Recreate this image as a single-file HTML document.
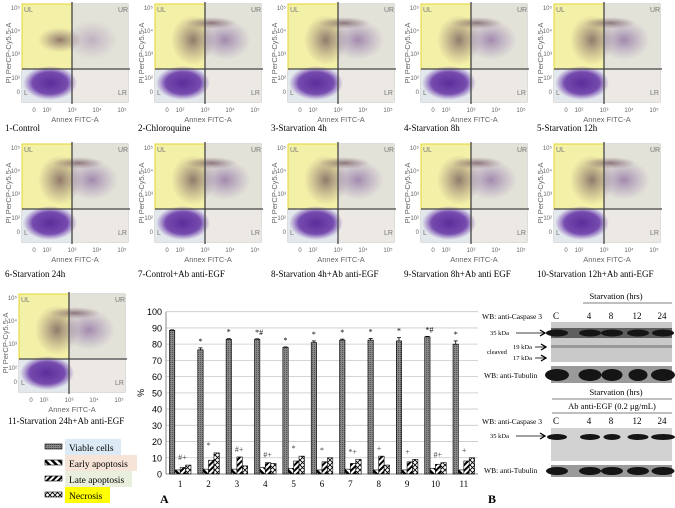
<!DOCTYPE html>
<html><head><meta charset="utf-8"><style>
body{margin:0;width:675px;height:508px;background:#fff;overflow:hidden;position:relative;font-family:"Liberation Serif",serif}
svg{position:absolute;left:0;top:0}
</style></head><body>
<svg id="fig" width="675" height="508" viewBox="0 0 675 508">
<defs>
<radialGradient id="blob"><stop offset="0" stop-color="#5a2d9a" stop-opacity="1"/><stop offset="0.65" stop-color="#6a3aa8" stop-opacity="0.9"/><stop offset="1" stop-color="#7c4fb8" stop-opacity="0"/></radialGradient>
<radialGradient id="cloud"><stop offset="0" stop-color="#6b3f8a" stop-opacity="0.6"/><stop offset="1" stop-color="#7b5aa0" stop-opacity="0"/></radialGradient>
<radialGradient id="cloud2"><stop offset="0" stop-color="#5b3a4a" stop-opacity="0.65"/><stop offset="1" stop-color="#7b5a6a" stop-opacity="0"/></radialGradient>
<pattern id="pDiag" width="4" height="4" patternUnits="userSpaceOnUse" patternTransform="rotate(45)"><rect width="4" height="4" fill="#fff"/><rect width="2" height="4" fill="#000"/></pattern>
<pattern id="pDiag2" width="5" height="5" patternUnits="userSpaceOnUse" patternTransform="rotate(-45)"><rect width="5" height="5" fill="#fff"/><rect width="2.5" height="5" fill="#000"/></pattern>
<pattern id="pCross" width="5" height="5" patternUnits="userSpaceOnUse"><rect width="5" height="5" fill="#fff"/><path d="M0 0L5 5M5 0L0 5" stroke="#000" stroke-width="0.9"/></pattern>
<pattern id="pGray" width="2" height="2" patternUnits="userSpaceOnUse"><rect width="2" height="2" fill="#888"/><rect width="1" height="1" fill="#555"/></pattern>
</defs>
<g id="flows"></g>
<g id="legend"></g>
<g id="chart"></g>
<g id="blots"></g>
</svg>
<script>
const NS="http://www.w3.org/2000/svg";
function mk(parent,tag,attrs,txt){const e=document.createElementNS(NS,tag);for(const k in attrs)e.setAttribute(k,attrs[k]);if(txt!==undefined)e.textContent=txt;parent.appendChild(e);return e;}

// ---------- flow panels ----------
const panelLabels=["1-Control","2-Chloroquine","3-Starvation 4h","4-Starvation 8h","5-Starvation 12h","6-Starvation 24h","7-Control+Ab anti-EGF","8-Starvation 4h+Ab anti-EGF","9-Starvation 8h+Ab anti EGF","10-Starvation 12h+Ab anti-EGF","11-Starvation 24h+Ab anti-EGF"];
const flows=document.getElementById('flows');
panelLabels.forEach((lab,i)=>{
  let col=i%5,row=Math.floor(i/5);
  let ox=col*133,oy=[0,140,290][row];
  if(row===2)ox=-3;
  const g=mk(flows,'g',{transform:`translate(${ox},${oy})`});
  
  
  mk(g,'rect',{x:22,y:4,width:106,height:98,fill:'#fff',stroke:'#bbb','stroke-width':1});
  mk(g,'rect',{x:22,y:4,width:50,height:65,fill:'#f3f0a8',stroke:'#e6d630','stroke-width':1});
  mk(g,'rect',{x:72,y:4,width:56,height:65,fill:'#e3e2d8'});
  mk(g,'rect',{x:22,y:69,width:50,height:33,fill:'#e3e8ec'});
  mk(g,'rect',{x:72,y:69,width:56,height:33,fill:'#ece8e4'});
  const k=i===0?0.5:1;
  mk(g,'ellipse',{cx:60,cy:40,rx:22,ry:25*k,fill:'url(#cloud2)'});
  mk(g,'ellipse',{cx:92,cy:40,rx:26,ry:20,fill:'url(#cloud)',opacity:i===0?0.5:0.9});
  if(i>0)mk(g,'ellipse',{cx:78,cy:23,rx:26,ry:6,fill:'url(#cloud2)'});
  mk(g,'ellipse',{cx:50,cy:83,rx:27,ry:17,fill:'url(#blob)'});
  mk(g,'line',{x1:22,y1:69,x2:130,y2:69,stroke:'#444','stroke-width':1.3});
  mk(g,'line',{x1:72,y1:2,x2:72,y2:104,stroke:'#444','stroke-width':1.3});
  [['UL',24,12],['UR',118,12],['L',24,95],['LR',118,95]].forEach(c=>mk(g,'text',{x:c[1],y:c[2],'font-family':'Liberation Sans','font-size':7,fill:'#777'},c[0]));
  [['10⁵',10],['10⁴',33],['10³',56],['10²',80],['0',94]].forEach(t=>mk(g,'text',{x:20,y:t[1],'text-anchor':'end','font-family':'Liberation Sans','font-size':6,fill:'#666'},t[0]));
  [['0',34],['10²',47],['10³',72],['10⁴',97],['10⁵',122]].forEach(t=>mk(g,'text',{x:t[1],y:112,'text-anchor':'middle','font-family':'Liberation Sans','font-size':6,fill:'#666'},t[0]));
  mk(g,'text',{x:75,y:122,'text-anchor':'middle','font-family':'Liberation Sans','font-size':7.5,fill:'#666'},'Annex FITC-A');
  mk(g,'text',{transform:'translate(11,53) rotate(-90)','text-anchor':'middle','font-family':'Liberation Sans','font-size':7.5,fill:'#666'},'PI PerCP-Cy5.5-A');
  const ly=row===0?131:(row===1?137:134);
  const t=mk(g,'text',{x:row===2?11:5,y:ly,'font-size':9,fill:'#000'},lab);
  
  
});

// ---------- legend ----------
const legNames=["Viable cells","Early apoptosis","Late apoptosis","Necrosis"];
const legBg=["#dbeaf4","#f7e4d8","#e8efdc","#ffff00"];
const legW=[56,72,67,45];
const legFill=["url(#pGray)","url(#pDiag2)","url(#pDiag)","url(#pCross)"];
const leg=document.getElementById('legend');
legNames.forEach((n,i)=>{
  const y=441+i*16;
  mk(leg,'rect',{x:65,y:y-2,width:legW[i],height:16,fill:legBg[i]});
  const s=mk(leg,'rect',{x:45,y:y+3,width:17,height:5,fill:legFill[i],stroke:'#000','stroke-width':0.6});
  
  
  const t=mk(leg,'text',{x:69,y:y+10,'font-size':9.5},n);
  
  
});

// ---------- bar chart ----------
const groups=["1","2","3","4","5","6","7","8","9","10","11"];
const viable=[88.5,76.5,83,83,78,81,82.5,82.5,82,84.5,80];
const early=[2.5,3,3,4,3.5,2.5,3,2.5,2.5,3.5,2.5];
const late=[4,8.5,10.5,7,8,7.5,6.5,11,7.5,6,8];
const necrosis=[5.5,13,5,6.5,11,10,9,5.5,9,7,10];
const viableErr=[0.3,1.2,0.4,0.3,0.3,1,0.6,1,2,0.3,2];
const yTicks=[0,10,20,30,40,50,60,70,80,90,100];
const viableMarks=["","*","*","*#","*","*","*","*","*","*#","*"];
const smallMarks=["#+","*","#+","#+","*","*","*+","+","+","#+","+"];
const ch=document.getElementById('chart');
const X0=166,X1=478,Y0=474,YS=1.623;
const yS=v=>Y0-v*YS;
const gw=(X1-X0)/groups.length;
const gx=i=>X0+gw*i+gw/2;
yTicks.forEach(v=>{
  if(v>0)mk(ch,'line',{x1:X0,y1:yS(v),x2:X1,y2:yS(v),stroke:'#c8c8c8','stroke-width':0.8});
  const t=mk(ch,'text',{x:X0-4,y:yS(v)+3.5,'text-anchor':'end','font-family':'Liberation Sans','font-size':9},v);
  
  
});
mk(ch,'line',{x1:X0,y1:yS(100),x2:X0,y2:Y0,stroke:'#888','stroke-width':1});
mk(ch,'line',{x1:X0,y1:Y0,x2:X1,y2:Y0,stroke:'#888','stroke-width':1});
mk(ch,'text',{transform:`translate(144,${yS(50)}) rotate(-90)`,'text-anchor':'middle','font-family':'Liberation Sans','font-size':9},'%');
const series=[[viable,"url(#pGray)"],[early,"url(#pDiag2)"],[late,"url(#pDiag)"],[necrosis,"url(#pCross)"]];
const bw=5.4;
groups.forEach((gname,i)=>{
  const c=gx(i);
  series.forEach((s,j)=>{
    const v=s[0][i];
    const x=c-2*bw+j*bw;
    const r=mk(ch,'rect',{x:x,y:yS(v),width:bw,height:v*YS,fill:s[1],stroke:'#000','stroke-width':0.6});
    
    
  });
  const ex=c-2*bw+bw/2,e=viableErr[i];
  mk(ch,'line',{x1:ex,y1:yS(viable[i]+e),x2:ex,y2:yS(viable[i]),stroke:'#000','stroke-width':0.8});
  mk(ch,'line',{x1:ex-2,y1:yS(viable[i]+e),x2:ex+2,y2:yS(viable[i]+e),stroke:'#000','stroke-width':0.8});
  if(viableMarks[i])mk(ch,'text',{x:ex-2,y:yS(viable[i]+e)-4,'font-size':8},viableMarks[i]);
  const mx=Math.max(late[i],necrosis[i]);
  mk(ch,'text',{x:c-2,y:yS(mx)-5,'font-size':8,fill:'#444'},smallMarks[i]);
  const t=mk(ch,'text',{x:c,y:Y0+13,'text-anchor':'middle','font-size':9},gname);
  
  
});
mk(ch,'text',{x:160,y:503,'font-size':12,'font-weight':'bold'},'A');

// ---------- western blots ----------
const bl=document.getElementById('blots');
const laneX=[556,589,611,637,662];
const laneL=["C","4","8","12","24"];
function txt(x,y,s,fs,anchor){return mk(bl,'text',{x:x,y:y,'font-size':fs||7.5,'text-anchor':anchor||'start'},s);}
function arrow(x1,x2,y){mk(bl,'line',{x1:x1,y1:y,x2:x2,y2:y,stroke:'#000','stroke-width':0.8});mk(bl,'path',{d:`M${x2-5} ${y-3}L${x2} ${y}L${x2-5} ${y+3}`,fill:'none',stroke:'#000','stroke-width':1.3});}
function band(y,h,ws,dark){laneX.forEach((x,i)=>mk(bl,'ellipse',{cx:x+1,cy:y,rx:ws[i]/2,ry:h/2,fill:dark||'#151515'}));}
txt(616,299,'Starvation (hrs)',8.5,'middle');
mk(bl,'line',{x1:583,y1:303,x2:672,y2:303,stroke:'#000','stroke-width':0.6});
txt(482,319,'WB: anti-Caspase 3',7.5);
laneL.forEach((l,i)=>txt(laneX[i],319,l,9,'middle'));
let b=mk(bl,'rect',{x:551,y:322,width:121,height:40,fill:'#c9c9c9'});

mk(bl,'rect',{x:551,y:328,width:121,height:10,fill:'#444',opacity:0.8});
band(333,7,[22,22,22,22,22]);
mk(bl,'rect',{x:551,y:345,width:121,height:3,fill:'#999'});
txt(490,335,'35 kDa',6.5);arrow(516,545,333);
txt(513,349,'19 kDa',6.5);arrow(535,546,347);
txt(513,360,'17 kDa',6.5);arrow(535,546,358);
txt(487,354,'cleaved',6.5);
b=mk(bl,'rect',{x:551,y:366,width:121,height:17,fill:'#9a9a9a'});

band(375,12,[24,23,21,19,24]);
txt(484,378,'WB: anti-Tubulin',7.5);
txt(616,395,'Starvation (hrs)',8.5,'middle');
mk(bl,'line',{x1:552,y1:399,x2:672,y2:399,stroke:'#000','stroke-width':0.6});
txt(612,409,'Ab anti-EGF (0.2 μg/mL)',8.5,'middle');
mk(bl,'line',{x1:552,y1:413,x2:672,y2:413,stroke:'#000','stroke-width':0.6});
txt(482,424,'WB: anti-Caspase 3',7.5);
laneL.forEach((l,i)=>txt(laneX[i],424,l,9,'middle'));
b=mk(bl,'rect',{x:551,y:428,width:121,height:33,fill:'#d2d2d2'});

band(437,6,[20,20,17,21,24]);
txt(490,438,'35 kDa',6.5);arrow(516,545,436);
b=mk(bl,'rect',{x:551,y:465,width:121,height:12,fill:'#9a9a9a'});

band(471,8,[22,22,22,22,23]);
txt(484,473,'WB: anti-Tubulin',7.5);
mk(bl,'text',{x:488,y:503,'font-size':12,'font-weight':'bold'},'B');
</script>
</body></html>
